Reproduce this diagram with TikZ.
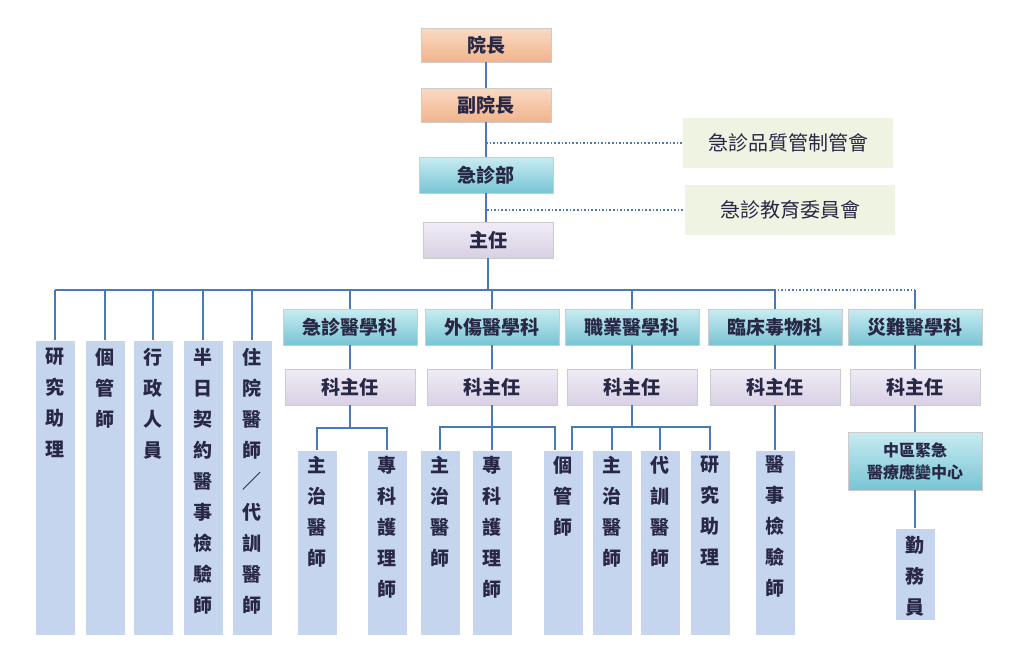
\documentclass[tikz,border=0pt]{standalone}
\usepackage{fontspec}
\setmainfont{Noto Sans CJK TC}
\begin{document}
\begin{tikzpicture}[x=1pt,y=-1pt,
  ln/.style={line width=1.6pt, draw={rgb,255:red,74;green,122;blue,181}},
  dln/.style={ln, dotted, line width=1.4pt},
  bx/.style={draw=gray!40, line width=0.6pt, inner sep=0pt, font=\fontsize{19}{21}\selectfont\bfseries, text={rgb,255:red,40;green,40;blue,70}},
  orb/.style={bx, top color={rgb,255:red,250;green,218;blue,196}, bottom color={rgb,255:red,240;green,180;blue,140}, minimum width=130, minimum height=34},
  cyb/.style={bx, top color={rgb,255:red,200;green,236;blue,242}, bottom color={rgb,255:red,120;green,196;blue,212}, minimum width=134, minimum height=36},
  lvb/.style={bx, top color={rgb,255:red,240;green,236;blue,246}, bottom color={rgb,255:red,216;green,208;blue,228}, minimum width=130, minimum height=36},
  grb/.style={bx, draw=none, fill={rgb,255:red,238;green,243;blue,226}, minimum width=210, minimum height=50, font=\fontsize{20}{22}\selectfont},
  colb/.style={draw=white, fill={rgb,255:red,197;green,213;blue,238}, minimum width=40, anchor=north, inner sep=0pt},
  ctext/.style={anchor=north, align=center, inner sep=0pt, font=\fontsize{19}{31}\selectfont\bfseries, text={rgb,255:red,40;green,40;blue,70}}
]
\useasboundingbox (0,0) rectangle (1020,653);
\newcommand{\mkcol}[6]{%
  \node[colb, minimum height=#4] (#1) at (#2,#3) {};
  \node[ctext] at ([yshift=-#6]#1.north) {#5};}
% top chain
\node[orb] (yz) at (486,45) {院長};
\node[orb] (fyz) at (486,105) {副院長};
\node[cyb] (jzb) at (486,175) {急診部};
\node[lvb] (zr) at (488,240) {主任};
\node[grb] (pz) at (788,143) {急診品質管制管會};
\node[grb] (jy) at (790,210) {急診教育委員會};
\draw[ln] (yz) -- (fyz);
\draw[ln] (fyz) -- (jzb);
\draw[ln] (jzb.south) -- (jzb.south|-zr.north);
\coordinate (p1) at (486,143);
\coordinate (p2) at (487,210);
\draw[dln] (p1) -- (pz.west);
\draw[dln] (p2) -- (jy.west);
% level bus
\coordinate (bus) at (488,290);
\draw[ln] (zr.south) -- (bus);
\draw[ln] (55,290) -- (774,290);
\draw[dln] (774,290) -- (915,290);
% left columns
\mkcol{c1}{55}{340}{295}{研\\究\\助\\理}{8}
\mkcol{c2}{105}{340}{295}{個\\管\\師}{8}
\mkcol{c3}{153}{340}{295}{行\\政\\人\\員}{8}
\mkcol{c4}{203}{340}{295}{半\\日\\契\\約\\醫\\事\\檢\\驗\\師}{8}
\mkcol{c5}{252}{340}{295}{住\\院\\醫\\師\\／\\代\\訓\\醫\\師}{8}
\foreach \n/\x in {c1/55,c2/105,c3/153,c4/203,c5/252}{\draw[ln] (\x,290) -- (\n.north);}
% departments
\foreach \n/\x/\t in {d1/350/急診醫學科,d2/492/外傷醫學科,d3/632/職業醫學科,d4/775/臨床毒物科,d5/915/災難醫學科}{
  \node[cyb] (\n) at (\x,327) {\t};
  \node[lvb] (\n k) at (\x,387) {科主任};
  \draw[ln] (\x,290) -- (\n.north);
  \draw[ln] (\n) -- (\n k);
}
% bottom columns
\mkcol{a1}{317}{450}{185}{主\\治\\醫\\師}{6}
\mkcol{a2}{387}{450}{185}{專\\科\\護\\理\\師}{6}
\mkcol{b1}{440}{450}{185}{主\\治\\醫\\師}{6}
\mkcol{b2}{492}{450}{185}{專\\科\\護\\理\\師}{6}
\mkcol{g}{563}{450}{185}{個\\管\\師}{6}
\mkcol{e1}{612}{450}{185}{主\\治\\醫\\師}{6}
\mkcol{e2}{660}{450}{185}{代\\訓\\醫\\師}{6}
\mkcol{e3}{710}{450}{185}{研\\究\\助\\理}{6}
\mkcol{f1}{775}{450}{185}{醫\\事\\檢\\驗\\師}{6}
% connectors
\draw[ln] (d1k.south) -- (350,428);
\draw[ln] (a1.north) |- (350,428) -| (a2.north);
\coordinate (gL) at (555,450);
\coordinate (gR) at (572,450);
\draw[ln] (d2k.south) -- (b2.north);
\draw[ln] (b1.north) |- (492,427) -| (gL);
\draw[ln] (d3k.south) -- (632,427);
\draw[ln] (gR) |- (632,427) -| (e3.north);
\draw[ln] (e1.north) -- (612,427);
\draw[ln] (e2.north) -- (660,427);
\draw[ln] (d4k) -- (f1.north);
\node[cyb, minimum height=58, align=center, font=\fontsize{16}{22}\selectfont\bfseries] (zq) at (915,461) {中區緊急\\醫療應變中心};
\draw[ln] (d5k) -- (zq);
\mkcol{h}{915}{528}{92}{勤\\務\\員}{8}
\draw[ln] (zq) -- (h.north);
\end{tikzpicture}
\end{document}
